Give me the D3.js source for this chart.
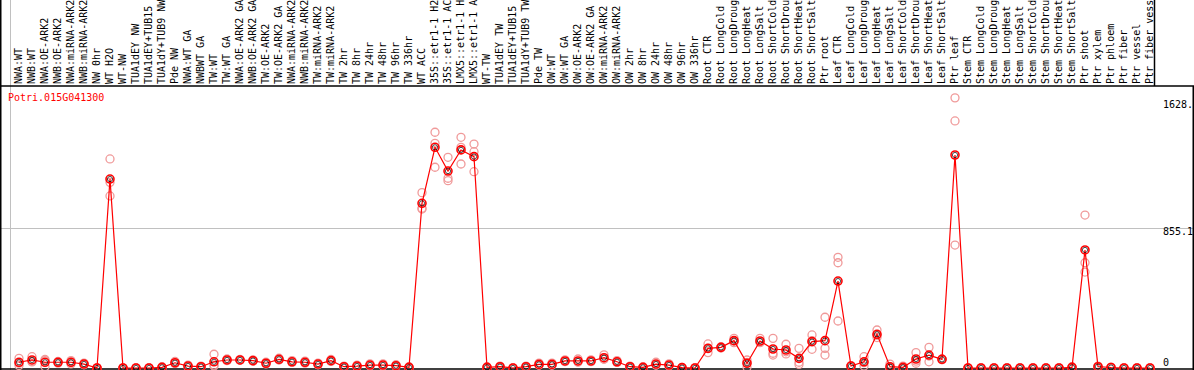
<!DOCTYPE html>
<html>
  <head>
    <title>Potri.015G041300</title>
    <script src="https://d3js.org/d3.v7.min.js"></script>
    <style>
      body { margin: 0; background: #fff; }
      text { font-family: "DejaVu Sans Mono", monospace; font-size: 10px; }
      .label { fill: #000; }
      .gene { fill: #ff0000; }
      .grid { stroke: #c0c0c0; stroke-width: 1; }
      .frame { stroke: #000; stroke-width: 1.5; }
    </style>
  </head>
  <body>
    <svg width="1194" height="370"></svg>
    <script>
      const gene = "Potri.015G041300";

      // number of samples in each block separated by a grey rule
      const groupSizes = [13, 28, 12, 10, 10, 11, 1, 1, 1, 1];

      const labels = [
        "NWA:WT", "NWB:WT", "NWA:OE-ARK2", "NWB:OE-ARK2", "NWA:miRNA-ARK2", "NWB:miRNA-ARK2",
        "NW 0hr", "WT H2O", "WT-NW", "TUA1dEY NW", "TUA1dEY+TUB15", "TUA1dY+TUB9 NW", "Pde NW",
        "NWA:WT GA", "NWBWT GA", "TW:WT", "TW:WT GA", "NWA:OE-ARK2 GA", "NWB:OE-ARK2 GA",
        "TW:OE-ARK2", "TW:OE-ARK2 GA", "NWA:miRNA-ARK2", "NWB:miRNA-ARK2", "TW:miRNA-ARK2",
        "TW:miRNA-ARK2", "TW 2hr", "TW 8hr", "TW 24hr", "TW 48hr", "TW 96hr", "TW 336hr",
        "WT ACC", "35S::etr1-1 H2O", "35S::etr1-1 ACC", "LMX5::etr1-1 H2O", "LMX5::etr1-1 ACC",
        "WT-TW", "TUA1dEY TW", "TUA1dEY+TUB15", "TUA1dY+TUB9 TW", "Pde TW",
        "OW:WT", "OW:WT GA", "OW:OE-ARK2", "OW:OE-ARK2 GA", "OW:miRNA-ARK2", "OW:miRNA-ARK2",
        "OW 2hr", "OW 8hr", "OW 24hr", "OW 48hr", "OW 96hr", "OW 336hr",
        "Root CTR", "Root LongCold", "Root LongDrought", "Root LongHeat", "Root LongSalt",
        "Root ShortCold", "Root ShortDrought", "Root ShortHeat", "Root ShortSalt", "Ptr root",
        "Leaf CTR", "Leaf LongCold", "Leaf LongDrought", "Leaf LongHeat", "Leaf LongSalt",
        "Leaf ShortCold", "Leaf ShortDrought", "Leaf ShortHeat", "Leaf ShortSalt", "Ptr leaf",
        "Stem CTR", "Stem LongCold", "Stem LongDrought", "Stem LongHeat", "Stem LongSalt",
        "Stem ShortCold", "Stem ShortDrought", "Stem ShortHeat", "Stem ShortSalt", "Ptr shoot",
        "Ptr xylem", "Ptr phloem", "Ptr fiber", "Ptr vessel", "Ptr fiber vessel"
      ];

      const means = [
        35, 49, 35, 35, 35, 24, 0, 1154, 0, 0, 0, 4, 32,
        12, 8, 38, 49, 49, 45, 29, 53, 38, 35, 24, 45, 8, 12, 18, 18, 14, 4,
        1006, 1348, 1203, 1332, 1291, 4, 8, 0, 8, 22,
        22, 43, 43, 43, 63, 38, 8, 4, 24, 18, 2, 0,
        120, 126, 167, 29, 165, 116, 110, 59, 161, 167,
        531, 12, 38, 206, 8, 4, 55, 79, 53, 1301,
        0, 0, 0, 0, 0, 0, 0, 0, 4, 721, 8,
        3, 0, 0, 0
      ];

      const reps = [
        [59, 30, 16], [69, 37, 41], [8, 45, 52], [40, 30, 35], [45, 25, 35], [30, 20, 22],
        [0, 0, 0], [1277, 1051, 1134], [0, 0, 0], [0, 0, 0], [0, 0, 0], [8, 2, 2], [40, 28, 28],
        [18, 10, 8], [12, 6, 6], [84, 18, 12], [55, 45, 47], [52, 47, 48], [50, 42, 43],
        [35, 25, 27], [60, 50, 49], [45, 35, 34], [42, 30, 33], [30, 20, 22], [52, 40, 43],
        [12, 6, 6], [18, 8, 10], [25, 14, 15], [25, 14, 15], [20, 10, 12], [8, 2, 2],
        [1071, 971, 976], [1440, 1372, 1226], [1287, 1159, 1144], [1409, 1348, 1246],
        [1368, 1321, 1199], [8, 2, 2], [12, 6, 6], [0, 0, 0], [12, 6, 6], [30, 18, 18],
        [30, 18, 18], [50, 40, 39], [55, 38, 36], [50, 40, 39], [80, 55, 54], [45, 34, 35],
        [12, 6, 6], [8, 2, 2], [35, 18, 19], [25, 14, 15], [4, 1, 1], [0, 0, 0],
        [147, 94, 120], [130, 122, 126], [181, 155, 165], [49, 4, 34], [181, 155, 159],
        [181, 90, 79], [145, 86, 99], [120, 35, 22], [202, 114, 167], [310, 120, 79],
        [676, 643, 287], [15, 10, 12], [69, 12, 33], [232, 200, 186], [24, 0, 0],
        [12, 0, 0], [94, 29, 42], [126, 38, 73], [55, 50, 54], [1650, 1509, 751],
        [0, 0, 0], [0, 0, 0], [0, 0, 0], [0, 0, 0], [0, 0, 0], [0, 0, 0], [0, 0, 0],
        [0, 0, 0], [8, 2, 2], [934, 643, 586], [12, 6, 6],
        [5, 2, 2], [0, 0, 0], [0, 0, 0], [0, 0, 0]
      ];

      const yTicks = [
        {value: 0, text: "0"},
        {value: 855.1, text: "855.1"},
        {value: 1628, text: "1628."}
      ];

      const svg = d3.select("svg");
      const width = +svg.attr("width");
      const height = +svg.attr("height");
      const labelBottom = 86;

      const x = d3.scaleBand()
        .domain(d3.range(labels.length))
        .range([10, 10 + 13 * labels.length]);

      const y = d3.scaleLinear()
        .domain([0, 855.1])
        .range([368, 228]);

      const cx = i => x(i) + 9;

      svg.append("rect")
        .attr("width", width)
        .attr("height", height)
        .attr("fill", "#fff");

      // group separators
      const bounds = [0].concat(d3.cumsum(groupSizes));
      svg.append("g")
        .selectAll("line")
        .data(bounds)
        .join("line")
          .attr("class", "grid")
          .attr("x1", d => x(0) + d * x.bandwidth() + 0.5)
          .attr("x2", d => x(0) + d * x.bandwidth() + 0.5)
          .attr("y1", 0)
          .attr("y2", height);

      // horizontal rule at the middle value
      svg.append("line")
        .attr("class", "grid")
        .attr("x1", 0)
        .attr("x2", width)
        .attr("y1", Math.round(y(855.1)) + 0.5)
        .attr("y2", Math.round(y(855.1)) + 0.5);

      // sample labels
      svg.append("g")
        .selectAll("text")
        .data(labels)
        .join("text")
          .attr("class", "label")
          .attr("transform", (d, i) => `translate(${cx(i) + 3}, ${labelBottom - 2}) rotate(-90)`)
          .text(d => d);

      // frame
      const frame = svg.append("g").attr("class", "frame");
      frame.append("line").attr("x1", 0).attr("x2", width).attr("y1", labelBottom).attr("y2", labelBottom);
      frame.append("line").attr("x1", 0).attr("x2", width).attr("y1", height - 1).attr("y2", height - 1);
      frame.append("line").attr("x1", 0.75).attr("x2", 0.75).attr("y1", 0).attr("y2", height);
      frame.append("line").attr("x1", width - 0.75).attr("x2", width - 0.75).attr("y1", labelBottom).attr("y2", height);
      frame.append("line")
        .attr("x1", x(0) + labels.length * x.bandwidth() + 0.5)
        .attr("x2", x(0) + labels.length * x.bandwidth() + 0.5)
        .attr("y1", 0).attr("y2", labelBottom);

      svg.append("text")
        .attr("class", "gene")
        .attr("x", 8)
        .attr("y", 101)
        .text(gene);

      svg.append("g")
        .selectAll("text")
        .data(yTicks)
        .join("text")
          .attr("x", 1163)
          .attr("y", d => d.value === 0 ? 366 : y(d.value) + 7)
          .text(d => d.text);

      // replicate points
      const repPoints = reps.flatMap((r, i) => r.map(v => ({i, v})));
      svg.append("g")
        .selectAll("circle")
        .data(repPoints)
        .join("circle")
          .attr("cx", d => cx(d.i))
          .attr("cy", d => y(d.v))
          .attr("r", 4)
          .attr("fill", "none")
          .attr("stroke", "#f09a9a")
          .attr("stroke-width", 1.3);

      // mean line
      svg.append("path")
        .datum(means)
        .attr("fill", "none")
        .attr("stroke", "#ff0000")
        .attr("stroke-width", 1.2)
        .attr("d", d3.line().x((d, i) => cx(i)).y(d => y(d)));

      const meanG = svg.append("g")
        .selectAll("g")
        .data(means)
        .join("g")
          .attr("transform", (d, i) => `translate(${cx(i)}, ${y(d)})`);
      meanG.append("circle")
        .attr("r", 4)
        .attr("fill", "none")
        .attr("stroke", "#ff0000")
        .attr("stroke-width", 1.6);
      meanG.append("circle")
        .attr("r", 2.6)
        .attr("fill", "none")
        .attr("stroke", "#000")
        .attr("stroke-width", 0.7);
    </script>
  </body>
</html>
